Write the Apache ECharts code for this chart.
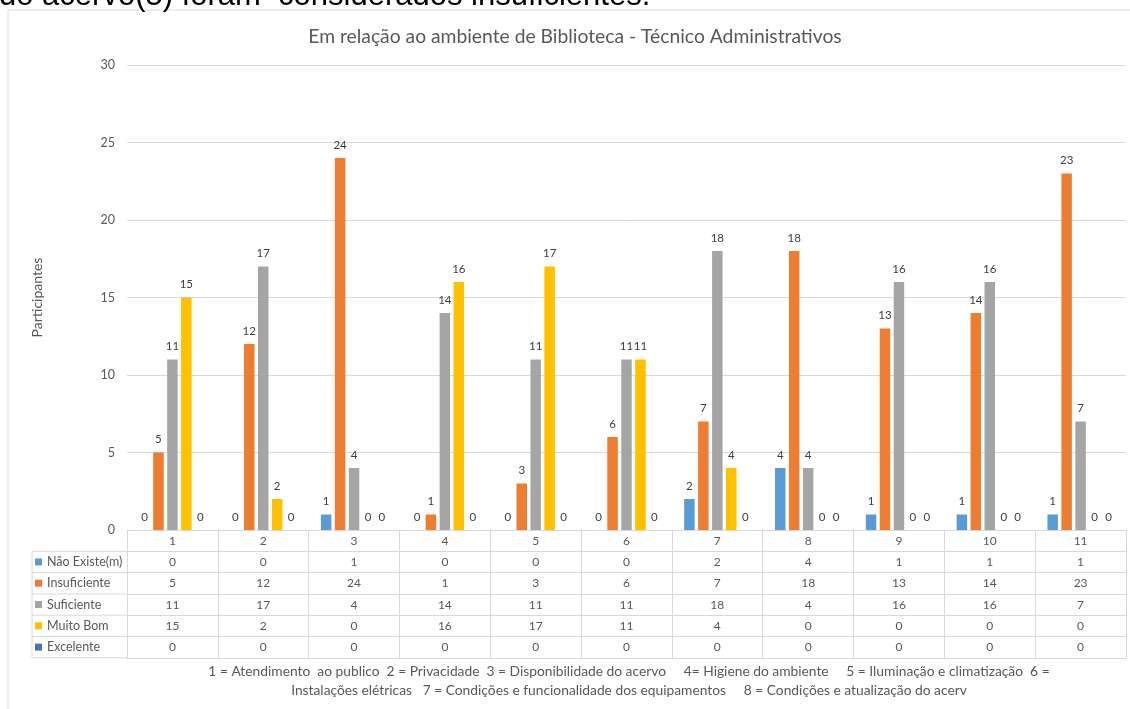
<!DOCTYPE html>
<html>
<head>
<meta charset="utf-8">
<script src="https://cdn.jsdelivr.net/npm/echarts@6/dist/echarts.min.js"></script>
<style>
html,body{margin:0;padding:0;background:#fff;}
#chart{width:1130px;height:709px;}
</style>
</head>
<body>
<div id="chart"></div>
<script>
var categories = ['1','2','3','4','5','6','7','8','9','10','11'];
var seriesNames = ['Não Existe(m)','Insuficiente','Suficiente','Muito Bom','Excelente'];
var naoExiste   = [0, 0, 1, 0, 0, 0, 2, 4, 1, 1, 1];
var insuficiente = [5, 12, 24, 1, 3, 6, 7, 18, 13, 14, 23];
var suficiente  = [11, 17, 4, 14, 11, 11, 18, 4, 16, 16, 7];
var muitoBom    = [15, 2, 0, 16, 17, 11, 4, 0, 0, 0, 0];
var excelente   = [0, 0, 0, 0, 0, 0, 0, 0, 0, 0, 0];
var yTicks = [0, 5, 10, 15, 20, 25, 30];
var colors = ['#5B9BD5','#ED7D31','#A5A5A5','#FFC000','#4472C4'];
var titleText = 'Em relação ao ambiente de Biblioteca - Técnico Administrativos';
var yName = 'Participantes';
var footnote = '1 = Atendimento  ao publico  2 = Privacidade  3 = Disponibilidade do acervo     4= Higiene do ambiente     5 = Iluminação e climatização  6 =\nInstalações elétricas   7 = Condições e funcionalidade dos equipamentos     8 = Condições e atualização do acerv';
var topText = 'do acervo(5) foram  considerados insuficientes.';

var rows = [naoExiste, insuficiente, suficiente, muitoBom, excelente];
var ROW = 21.3;
var GRID_LEFT = 127, GRID_BOTTOM_Y = 530;
var LINE = '#d9d9d9';
var TXT = '#595959';

var chart = echarts.init(document.getElementById('chart'));

var xAxes = [];
xAxes.push({
  type: 'category', data: categories, position: 'bottom', offset: 0,
  axisLine: {show: true, lineStyle: {color: LINE, width: 1}},
  axisTick: {show: true, alignWithLabel: false, interval: 0, length: ROW, lineStyle: {color: LINE}},
  axisLabel: {show: true, interval: 0, margin: 5, color: TXT, fontSize: 12}
});
rows.forEach(function (vals, k) {
  xAxes.push({
    type: 'category', data: vals.map(String), position: 'bottom', offset: ROW * (k + 1),
    axisLine: {show: true, lineStyle: {color: LINE, width: 1}},
    axisTick: {show: true, alignWithLabel: false, interval: 0, length: ROW, lineStyle: {color: LINE}},
    axisLabel: {show: true, interval: 0, margin: 5, color: TXT, fontSize: 12,
      formatter: function (v, i) { return String(vals[i]); }}
  });
});
xAxes.push({
  type: 'category', data: categories, position: 'bottom', offset: ROW * 6,
  axisLine: {show: true, lineStyle: {color: LINE, width: 1}},
  axisTick: {show: false}, axisLabel: {show: false}
});

var series = rows.map(function (vals, i) {
  return {
    name: seriesNames[i], type: 'bar', data: vals, xAxisIndex: 0,
    barGap: '33%', barCategoryGap: '27%',
    itemStyle: {color: colors[i]},
    label: {show: true, position: 'top', distance: 7, fontSize: 11.5, color: '#404040'}
  };
});

var graphics = [
  {type: 'rect', shape: {x: 8, y: 10, width: 1200, height: 800}, style: {fill: 'none', stroke: LINE, lineWidth: 1}, silent: true},
  {type: 'text', x: -1, y: 12, style: {text: topText, font: '31px "Liberation Sans", Arial, sans-serif', fill: '#000', verticalAlign: 'bottom'}, silent: true},
  {type: 'line', shape: {x1: 32, y1: GRID_BOTTOM_Y + ROW, x2: 32, y2: GRID_BOTTOM_Y + 6 * ROW}, style: {stroke: LINE, lineWidth: 1}, silent: true}
];
for (var r = 1; r <= 6; r++) {
  graphics.push({type: 'line', shape: {x1: 32, y1: GRID_BOTTOM_Y + r * ROW, x2: GRID_LEFT, y2: GRID_BOTTOM_Y + r * ROW},
    style: {stroke: LINE, lineWidth: 1}, silent: true});
}

chart.setOption({
  animation: false,
  textStyle: {fontFamily: 'Lato, "Open Sans", sans-serif'},
  color: colors,
  title: [
    {text: titleText, left: 570, top: 22, textAlign: 'center',
      textStyle: {fontSize: 19.3, fontWeight: 'normal', color: TXT}},
    {text: footnote, left: 624, top: 657.5, textAlign: 'center',
      textStyle: {fontSize: 13.8, fontWeight: 'normal', color: TXT, lineHeight: 19}}
  ],
  legend: {
    data: seriesNames, orient: 'vertical', left: 35, top: GRID_BOTTOM_Y + ROW + 3.6, padding: 0,
    itemWidth: 7, itemHeight: 7, itemGap: 7.3, icon: 'rect', selectedMode: false,
    textStyle: {color: TXT, fontSize: 12.5, lineHeight: 14}
  },
  grid: {left: GRID_LEFT, right: 4, top: 65, bottom: 709 - GRID_BOTTOM_Y, containLabel: false},
  xAxis: xAxes,
  yAxis: {
    type: 'value', min: yTicks[0], max: yTicks[yTicks.length - 1], interval: yTicks[1] - yTicks[0],
    name: yName, nameLocation: 'middle', nameRotate: 90, nameGap: 83,
    nameTextStyle: {color: TXT, fontSize: 14},
    axisLine: {show: false}, axisTick: {show: false},
    axisLabel: {color: TXT, fontSize: 12.5, margin: 12},
    splitLine: {lineStyle: {color: LINE, width: 1}}
  },
  series: series,
  graphic: graphics
});
</script>
</body>
</html>
